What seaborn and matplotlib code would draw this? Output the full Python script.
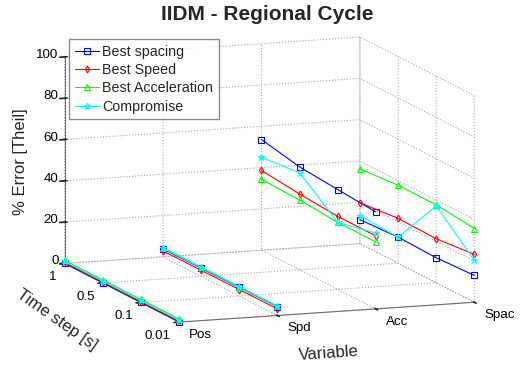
import matplotlib
matplotlib.use("Agg")
import matplotlib.pyplot as plt
from matplotlib.ticker import NullFormatter
import seaborn as sns
import numpy as np
import pandas as pd

# ---------------- data ----------------
variables = ["Pos", "Spd", "Acc", "Spac"]
time_steps = ["1", "0.5", "0.1", "0.01"]
series_names = ["Best spacing", "Best Speed", "Best Acceleration", "Compromise"]
z_ticks = [0, 20, 40, 60, 80, 100]

# rows: variable (Pos, Spd, Acc, Spac); columns: time step (1, 0.5, 0.1, 0.01)
best_spacing = [[0.2, 0.2, 0.2, 0.2],
                [3.8, 4.0, 4.1, 4.3],
                [53.6, 49.8, 48.3, 46.9],
                [11.6, 12.6, 12.1, 13.0]]
best_speed = [[0.5, 0.5, 0.5, 0.5],
              [2.8, 3.0, 3.1, 3.2],
              [38.6, 36.7, 35.3, 35.3],
              [19.8, 21.7, 21.3, 23.2]]
best_acceleration = [[1.5, 1.5, 1.5, 1.5],
                     [4.4, 4.5, 4.5, 4.6],
                     [34.3, 33.8, 32.4, 32.4],
                     [36.2, 37.7, 37.7, 35.7]]
compromise = [[1.0, 1.0, 1.0, 1.0],
              [4.1, 4.2, 4.3, 4.4],
              [45.0, 46.9, 32.4, 36.7],
              [13.5, 12.6, 37.2, 20.3]]

series_values = [best_spacing, best_speed, best_acceleration, compromise]
colors = ["#0000ff", "#ff0000", "#00ff00", "#00ffff"]
markers = ["s", "d", "^", "*"]

rows = []
for name, vals in zip(series_names, series_values):
    for i, var in enumerate(variables):
        for j, ts in enumerate(time_steps):
            rows.append({"series": name, "variable": var, "time_step": ts,
                         "xi": i, "yi": len(time_steps) - 1 - j, "error": vals[i][j]})
df = pd.DataFrame(rows)

# ---------------- style ----------------
sns.set_theme(style="white")
plt.rcParams["font.family"] = ["Liberation Sans", "DejaVu Sans"]
plt.rcParams["grid.linestyle"] = ":"
plt.rcParams["grid.color"] = "#a8a8a8"
plt.rcParams["grid.linewidth"] = 0.8
palette = sns.color_palette(colors)

fig = plt.figure(figsize=(5.22, 3.65), dpi=100)
ax = fig.add_axes([0.0067, -0.0055, 1.0, 1.0], projection="3d")
ax.set_proj_type("ortho")
ax.view_init(elev=10.7, azim=-109.9)
ax.set_box_aspect((316, 338, 211.5), zoom=1.345)

msize = {"s": 4, "d": 3.5, "^": 4, "*": 4.5}
for k, name in enumerate(series_names):
    sub = df[df["series"] == name]
    first = True
    for var in variables:
        s = sub[sub["variable"] == var]
        ax.plot(s["xi"], s["yi"], s["error"], color=palette[k], marker=markers[k],
                markersize=msize[markers[k]], markerfacecolor="none",
                markeredgewidth=0.8, linewidth=0.8, clip_on=False,
                label=name if first else None)
        first = False

nx, ny = len(variables), len(time_steps)
ax.set_xlim(0, nx - 1)
ax.set_ylim(0, ny - 1)
ax.set_zlim(z_ticks[0], z_ticks[-1])
ax.set_xticks(range(nx))
ax.set_yticks(range(ny))
ax.set_zticks(z_ticks)
for axis in (ax.xaxis, ax.yaxis, ax.zaxis):
    axis.set_major_formatter(NullFormatter())
    axis.set_tick_params(labelbottom=False, labeltop=False)
    axis.set_pane_color((1, 1, 1, 1))
    axis.pane.set_edgecolor("none")
    axis.line.set_color("#6f6f6f")
    axis.line.set_linewidth(0.8)

# projection of tick positions -> 2D tick labels (MATLAB style placement)
fig.canvas.draw()
M = ax.M


def proj(x, y, z):
    v = M @ np.array([x, y, z, 1.0])
    return v[0] / v[3], v[1] / v[3]


def tick_label(text, xyz, offset, ha):
    ax.annotate(text, xy=proj(*xyz), xycoords="data", xytext=offset,
                textcoords="offset pixels", ha=ha, va="center", fontsize=9.6,
                color="black", annotation_clip=False)


for i, var in enumerate(variables):
    tick_label(var, (i, 0, z_ticks[0]), (10, -13), "left")
for j, ts in enumerate(time_steps):
    tick_label(ts, (0, ny - 1 - j, z_ticks[0]), (-8, -13.5), "right")
for zt in z_ticks:
    tick_label(str(zt), (0, ny - 1, zt), (-6, 2), "right")

# axis labels
fig.text(21 / 522, 1 - 162 / 365, "% Error [Theil]", rotation=90, ha="center", va="center", fontsize=12)
fig.text(57 / 522, 1 - 320 / 365, "Time step [s]", rotation=-35, ha="center", va="center",
         fontsize=12, rotation_mode="anchor")
fig.text(329 / 522, 1 - 353 / 365, "Variable", rotation=3.9, ha="center", va="center",
         fontsize=12, rotation_mode="anchor")

fig.text(0.5125, 0.985, "IIDM - Regional Cycle", fontsize=15, fontweight="bold",
         ha="center", va="top")
ax.legend(loc="upper left", bbox_to_anchor=(69 / 522, 1 - 39 / 365),
          bbox_transform=fig.transFigure, fontsize=10.3, frameon=True,
          fancybox=False, edgecolor="#6f6f6f", handlelength=1.7,
          borderpad=0.4, labelspacing=0.3, handletextpad=0.2, borderaxespad=0)

fig.savefig("out.png", dpi=100)
